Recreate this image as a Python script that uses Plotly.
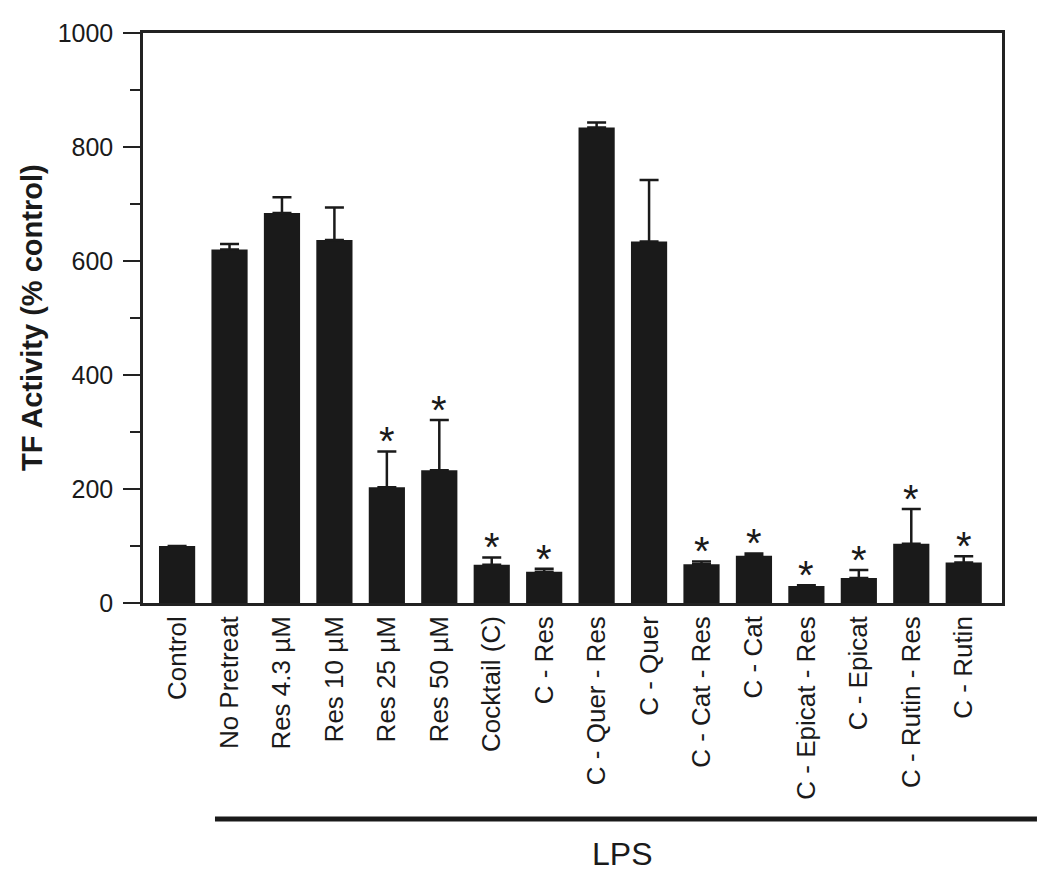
import plotly.graph_objects as go

categories = ["Control", "No Pretreat", "Res 4.3 µM", "Res 10 µM", "Res 25 µM", "Res 50 µM",
              "Cocktail (C)", "C - Res", "C - Quer - Res", "C - Quer", "C - Cat - Res", "C - Cat",
              "C - Epicat - Res", "C - Epicat", "C - Rutin - Res", "C - Rutin"]
values = [100, 620, 684, 637, 203, 233, 67, 55, 834, 634, 68, 83, 30, 44, 104, 71]
errors = [0, 10, 28, 57, 63, 88, 13, 5, 9, 108, 5, 4, 1, 14, 61, 11]
significant = [False, False, False, False, True, True, True, True, False, False, True, True, True, True, True, True]
y_ticks = [0, 200, 400, 600, 800, 1000]

x_idx = list(range(len(categories)))
BLACK = "#1a1a1a"
FONT = "Liberation Sans, Arial, Helvetica, sans-serif"

fig = go.Figure()
fig.add_trace(go.Bar(
    x=x_idx, y=values, width=0.69,
    marker=dict(color=BLACK, line=dict(width=0)),
    error_y=dict(type="data", array=errors, arrayminus=[0] * len(errors), symmetric=False,
                 color=BLACK, thickness=2.5, width=9.5, visible=True),
    showlegend=False,
))

for i, (v, e, s) in enumerate(zip(values, errors, significant)):
    if s:
        fig.add_annotation(x=i, y=v + e, xref="x", yref="y", text="*", showarrow=False,
                           yanchor="middle", yshift=10,
                           font=dict(family=FONT, size=40, color=BLACK))

# LPS bracket line and label
fig.add_shape(type="line", xref="paper", yref="paper", x0=0.0838, x1=1.0407, y0=-0.379, y1=-0.379,
              line=dict(color=BLACK, width=5))
fig.add_annotation(x=8.49, y=-0.441, xref="x", yref="paper", text="LPS", showarrow=False,
                   yanchor="middle", font=dict(family=FONT, size=32, color=BLACK))

# Y axis title
fig.add_annotation(x=-0.1292, y=0.5, xref="paper", yref="paper", text="<b>TF Activity (% control)</b>",
                   textangle=-90, showarrow=False, xanchor="center", yanchor="middle",
                   font=dict(family=FONT, size=29, color=BLACK))

fig.update_layout(
    width=1050, height=876,
    margin=dict(l=135, r=56, t=25, b=281),
    plot_bgcolor="white", paper_bgcolor="white",
    font=dict(family=FONT, color=BLACK),
)
fig.update_xaxes(
    range=[-0.65, 15.73], tickmode="array", tickvals=x_idx, ticktext=categories,
    tickangle=-90, tickfont=dict(size=26, color=BLACK), ticks="", ticklen=0,
    showline=True, linecolor="#222", linewidth=2.5, mirror=True, showgrid=False, zeroline=False,
)
fig.update_yaxes(
    range=[0, 1000], tickmode="array", tickvals=y_ticks,
    ticks="outside", ticklen=17, tickwidth=2, tickcolor="#222", ticklabelstandoff=5,
    minor=dict(dtick=100, ticks="outside", ticklen=10, tickwidth=2, tickcolor="#222", showgrid=False),
    tickfont=dict(size=25, color=BLACK),
    showline=True, linecolor="#222", linewidth=2.5, mirror=True, showgrid=False, zeroline=False,
)

fig.write_html("out.html")
